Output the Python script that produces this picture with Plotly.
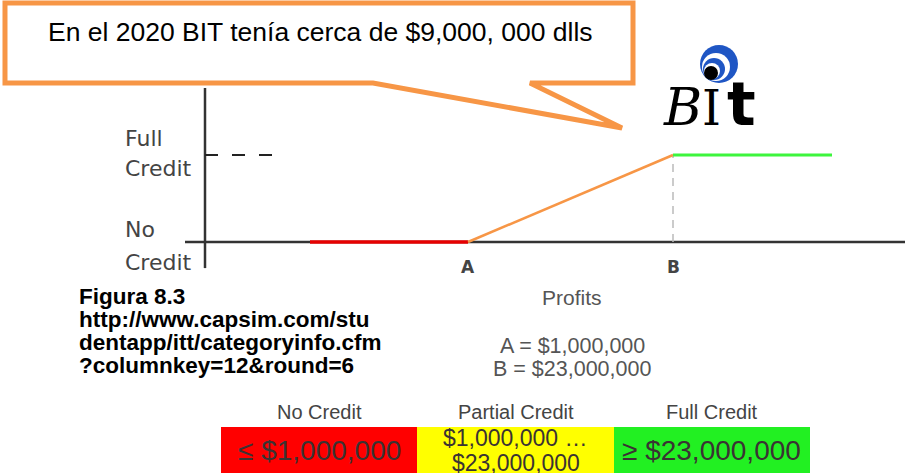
import plotly.graph_objects as go

# --- datos ---
# posiciones esquemáticas sobre el eje de utilidades (inicio, A, B, fin)
profit_x = [1.05, 2.63, 4.68, 6.27]
credit_y = [0, 0, 1, 1]
profit_labels = ["A", "B"]
profit_values = ["A = $1,000,000", "B = $23,000,000"]

categorias = ["No Credit", "Partial Credit", "Full Credit"]
rangos = ["≤ $1,000,000", "$1,000,000 …<br>$23,000,000", "≥ $23,000,000"]
colores_celda = ["#FF0000", "#FFFF00", "#22F022"]

W, H = 905, 473


def px(x):
    return x / W


def py(y):
    return 1 - y / H


fig = go.Figure()

# segmentos de la curva de crédito
segmentos = [(0, 1, "#E60000", 3.5), (1, 2, "#F79646", 2.5), (2, 3, "#3DF53D", 3)]
for i0, i1, color, ancho in segmentos:
    fig.add_trace(go.Scatter(
        x=profit_x[i0:i1 + 1], y=credit_y[i0:i1 + 1],
        mode="lines", line=dict(color=color, width=ancho),
        hoverinfo="skip", showlegend=False,
    ))

# tabla de rangos como barras apiladas
fig.add_trace(go.Bar(
    x=[1, 1, 1], y=[0, 0, 0], base=[0, 1, 2], orientation="h",
    marker=dict(color=colores_celda, line=dict(width=0)),
    xaxis="x2", yaxis="y2", width=1, hoverinfo="skip", showlegend=False,
))

shapes = []
# ejes del diagrama
shapes.append(dict(type="line", xref="x", yref="y", x0=-0.2, x1=7.0, y0=0, y1=0,
                   line=dict(color="#333333", width=2.5), layer="below"))
shapes.append(dict(type="line", xref="x", yref="y", x0=0, x1=0, y0=-0.3, y1=1.77,
                   line=dict(color="#333333", width=2.5), layer="below"))
shapes.append(dict(type="line", xref="x", yref="y", x0=0, x1=0.7, y0=1, y1=1,
                   line=dict(color="#222222", width=2, dash="13px,14px")))
shapes.append(dict(type="line", xref="x", yref="y", x0=profit_x[2], x1=profit_x[2], y0=0, y1=1,
                   line=dict(color="#BBBBBB", width=1.5, dash="8px,6px"), layer="below"))

# globo de texto
pts = [(5, 3), (633, 3), (633, 83), (530, 83), (622, 128), (373, 83), (5, 83)]
path = "M " + " L ".join(f"{px(a):.5f},{py(b):.5f}" for a, b in pts) + " Z"
shapes.append(dict(type="path", xref="paper", yref="paper", path=path,
                   fillcolor="white", line=dict(color="#F79646", width=5)))

# logo BIT: anillos azules
for cx, cy, r, col in [(719, 64, 19, "#1F56C4"), (716, 67, 14, "white"),
                       (714, 69, 11, "#1F56C4"), (712, 71, 8, "white"),
                       (711, 73, 7, "black")]:
    shapes.append(dict(type="circle", xref="paper", yref="paper",
                       x0=px(cx - r), x1=px(cx + r), y0=py(cy + r), y1=py(cy - r),
                       fillcolor=col, line=dict(width=0)))

ann = []


def texto(t, x, y, size, color="#3C3C3C", family="DejaVu Sans", xanchor="center", **kw):
    ann.append(dict(text=t, x=px(x), y=py(y), xref="paper", yref="paper",
                    showarrow=False, xanchor=xanchor, yanchor="middle",
                    font=dict(size=size, color=color, family=family), **kw))


texto("En el 2020 BIT tenía cerca de $9,000, 000 dlls", 320, 32, 26.5, "black", "Liberation Sans")

# etiquetas del eje vertical
texto("Full", 123, 138, 22, "#444444", xanchor="left")
texto("Credit", 123, 168, 22, "#444444", xanchor="left")
texto("No", 123, 230, 22, "#444444", xanchor="left")
texto("Credit", 123, 262, 22, "#444444", xanchor="left")

# etiquetas A y B
for lab, xv in zip(profit_labels, profit_x[1:3]):
    ann.append(dict(text=f"<b>{lab}</b>", x=xv, y=0, xref="x", yref="y", yshift=-25,
                    showarrow=False, font=dict(size=17, color="#444444", family="DejaVu Sans")))

texto("Profits", 572, 297, 21, "#555555", "Liberation Sans")
texto(profit_values[0], 572, 346, 21.5, "#555555", "Liberation Sans")
texto(profit_values[1], 572, 369, 21.5, "#555555", "Liberation Sans")

# referencia de la figura
for i, linea in enumerate(["Figura 8.3", "http://www.capsim.com/stu",
                           "dentapp/itt/categoryinfo.cfm", "?columnkey=12&round=6"]):
    texto(f"<b>{linea}</b>", 77, 296 + 23 * i, 22.5, "black", "Liberation Sans", xanchor="left")

# logo BIT: letras
texto("<i>B</i>", 682, 107, 52, "black", "DejaVu Serif")
texto("I", 711, 108, 48, "black", "DejaVu Serif")
texto("<b>t</b>", 741, 104, 60, "black", "DejaVu Sans")

# encabezados y textos de la tabla
for i, (cat, rango) in enumerate(zip(categorias, rangos)):
    ann.append(dict(text=cat, x=i + 0.5, y=0.5, xref="x2", yref="y2", yanchor="bottom",
                    yshift=2, showarrow=False,
                    font=dict(size=20, color="#444444", family="Liberation Sans")))
    lineas = rango.split("<br>")
    shifts = [0] if len(lineas) == 1 else [12, -13]
    for linea, ys in zip(lineas, shifts):
        ann.append(dict(text=linea, x=i + 0.5, y=0, xref="x2", yref="y2", yshift=ys,
                        showarrow=False,
                        font=dict(size=28 if len(lineas) == 1 else 23, color="#3A3333",
                                  family="Liberation Sans")))

ejes = dict(showgrid=False, zeroline=False, showticklabels=False, showline=False, fixedrange=True)

fig.update_layout(
    width=W, height=H,
    margin=dict(l=0, r=0, t=0, b=0),
    paper_bgcolor="white", plot_bgcolor="white",
    xaxis=dict(range=[-2.05, 7.0], domain=[0, 1], **ejes),
    yaxis=dict(range=[-(H - 242) / 87, 242 / 87], domain=[0, 1], **ejes),
    xaxis2=dict(range=[0, 3], domain=[221 / W, 810 / W], anchor="y2", **ejes),
    yaxis2=dict(range=[-0.5, 0.5], domain=[0, 46 / H], anchor="x2", **ejes),
    bargap=0, barmode="overlay",
    shapes=shapes, annotations=ann,
    showlegend=False,
)

# sin margen del body para que la figura ocupe la ventana completa
fig.write_html("out.html", config={"displayModeBar": False},
               post_script="document.body.style.margin='0px';")
